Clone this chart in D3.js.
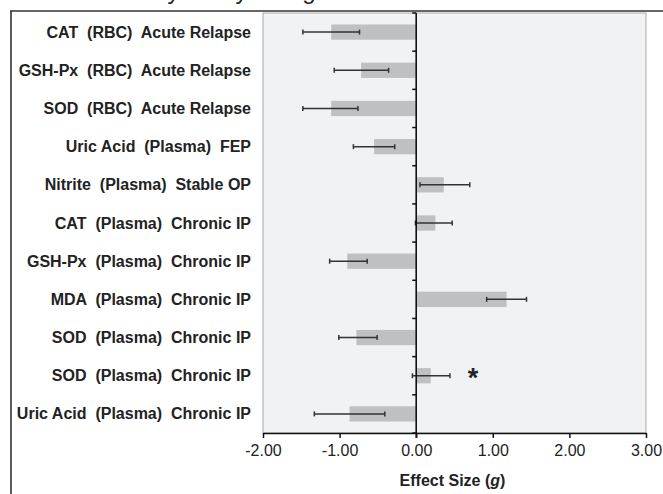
<!DOCTYPE html>
<html>
<head>
<meta charset="utf-8">
<script src="https://cdn.jsdelivr.net/npm/d3@7"></script>
<style>
  body { margin: 0; background: #fff; }
  text { font-family: Arial, "Liberation Sans", sans-serif; }
</style>
</head>
<body>
<div id="chart"></div>
<script>
// chart data
const categories = [
    "CAT  (RBC)  Acute Relapse",
    "GSH-Px  (RBC)  Acute Relapse",
    "SOD  (RBC)  Acute Relapse",
    "Uric Acid  (Plasma)  FEP",
    "Nitrite  (Plasma)  Stable OP",
    "CAT  (Plasma)  Chronic IP",
    "GSH-Px  (Plasma)  Chronic IP",
    "MDA  (Plasma)  Chronic IP",
    "SOD  (Plasma)  Chronic IP",
    "SOD  (Plasma)  Chronic IP",
    "Uric Acid  (Plasma)  Chronic IP"
];
const effect = [-1.11, -0.72, -1.11, -0.55, 0.36, 0.25, -0.90, 1.18, -0.78, 0.19, -0.87];
const lower  = [-1.48, -1.07, -1.48, -0.82, 0.05, -0.01, -1.13, 0.92, -1.01, -0.05, -1.33];
const upper  = [-0.74, -0.36, -0.76, -0.28, 0.70, 0.47, -0.64, 1.44, -0.51, 0.44, -0.41];
const marks  = ["", "", "", "", "", "", "", "", "", "*", ""];
const xTicks = [-2, -1, 0, 1, 2, 3];

function drawChart() {
    const W = 663, H = 494;
    const margin = { top: 13, right: 17, bottom: 61, left: 263 };
    const width = W - margin.left - margin.right,
          height = H - margin.top - margin.bottom;

    const svg = d3.select("#chart").append("svg")
        .attr("width", W)
        .attr("height", H);

    // frame of the surrounding figure (title is cut off at the top, as in the source)
    svg.append("text")
        .attr("x", 329)
        .attr("y", -1)
        .attr("text-anchor", "end")
        .style("font-size", "24px")
        .attr("fill", "#222")
        .text("Effect Sizes by Study Design");
    svg.append("line")
        .attr("x1", 10).attr("x2", W)
        .attr("y1", 11).attr("y2", 11)
        .attr("stroke", "#333").attr("stroke-width", 1.6);
    svg.append("line")
        .attr("x1", 11).attr("x2", 11)
        .attr("y1", 11).attr("y2", H)
        .attr("stroke", "#333").attr("stroke-width", 1.6);

    const g = svg.append("g")
        .attr("transform", `translate(${margin.left},${margin.top})`);

    const x = d3.scaleLinear().domain([-2, 3]).range([0, width]);
    const y = d3.scaleBand()
        .domain(d3.range(categories.length))
        .range([0, height])
        .paddingInner(0.6)
        .paddingOuter(0.3);
    const step = y.step();

    // plot background
    g.append("rect")
        .attr("x", 0).attr("y", 0)
        .attr("width", width).attr("height", height)
        .attr("fill", "#f1f2f4")
        .attr("stroke", "#a9a9a9")
        .attr("stroke-width", 1);

    // bars
    g.selectAll(".bar")
        .data(effect)
        .enter().append("rect")
        .attr("class", "bar")
        .attr("x", d => x(Math.min(0, d)))
        .attr("y", (d, i) => y(i))
        .attr("width", d => Math.abs(x(d) - x(0)))
        .attr("height", y.bandwidth())
        .attr("fill", "#bfc0c3");

    // error bars
    const err = g.selectAll(".err")
        .data(effect)
        .enter().append("g")
        .attr("class", "err")
        .attr("transform", (d, i) => `translate(0,${y(i) + y.bandwidth() / 2})`);
    err.append("line")
        .attr("x1", (d, i) => x(lower[i]))
        .attr("x2", (d, i) => x(upper[i]))
        .attr("stroke", "#333").attr("stroke-width", 1.5);
    err.append("line")
        .attr("x1", (d, i) => x(lower[i])).attr("x2", (d, i) => x(lower[i]))
        .attr("y1", -2.5).attr("y2", 2.5)
        .attr("stroke", "#333").attr("stroke-width", 1.5);
    err.append("line")
        .attr("x1", (d, i) => x(upper[i])).attr("x2", (d, i) => x(upper[i]))
        .attr("y1", -2.5).attr("y2", 2.5)
        .attr("stroke", "#333").attr("stroke-width", 1.5);

    // significance marker
    g.selectAll(".mark")
        .data(marks)
        .enter().append("text")
        .attr("class", "mark")
        .attr("x", (d, i) => x(upper[i]) + 23)
        .attr("y", (d, i) => y(i) + y.bandwidth() / 2 + 11)
        .attr("text-anchor", "middle")
        .style("font-size", "27px")
        .style("font-weight", "bold")
        .attr("fill", "#222")
        .text(d => d);

    // X axis
    const xAxis = g.append("g")
        .attr("transform", `translate(0,${height})`)
        .call(d3.axisBottom(x)
            .tickValues(xTicks)
            .tickFormat(d => d.toFixed(2))
            .tickSize(5)
            .tickSizeOuter(0));
    xAxis.select(".domain").attr("stroke", "#111").attr("stroke-width", 1.6);
    xAxis.selectAll(".tick line").attr("stroke", "#111").attr("stroke-width", 1.5);
    xAxis.selectAll(".tick text")
        .attr("y", 12)
        .attr("dy", "0.71em")
        .style("font-size", "16px")
        .attr("fill", "#222");

    // zero line with category ticks
    g.append("line")
        .attr("x1", x(0)).attr("x2", x(0))
        .attr("y1", 0).attr("y2", height + 5)
        .attr("stroke", "#111").attr("stroke-width", 1.6);
    g.selectAll(".ctick")
        .data(d3.range(categories.length + 1))
        .enter().append("line")
        .attr("class", "ctick")
        .attr("x1", x(0) - 4).attr("x2", x(0))
        .attr("y1", i => i * step)
        .attr("y2", i => i * step)
        .attr("stroke", "#111").attr("stroke-width", 1.5);

    // category labels
    g.selectAll(".label")
        .data(categories)
        .enter().append("text")
        .attr("class", "label")
        .attr("x", -12)
        .attr("y", (d, i) => y(i) + y.bandwidth() / 2 + 5.5)
        .attr("text-anchor", "end")
        .attr("xml:space", "preserve")
        .style("white-space", "pre")
        .style("font-size", "16px")
        .style("font-weight", "bold")
        .attr("fill", "#222")
        .text(d => d);

    // axis title
    const title = g.append("text")
        .attr("x", width / 2 - 2)
        .attr("y", height + 53)
        .attr("text-anchor", "middle")
        .style("font-size", "16px")
        .style("font-weight", "bold")
        .attr("fill", "#222");
    title.append("tspan").text("Effect Size (");
    title.append("tspan").style("font-style", "italic").text("g");
    title.append("tspan").text(")");
}

drawChart();
</script>
</body>
</html>
